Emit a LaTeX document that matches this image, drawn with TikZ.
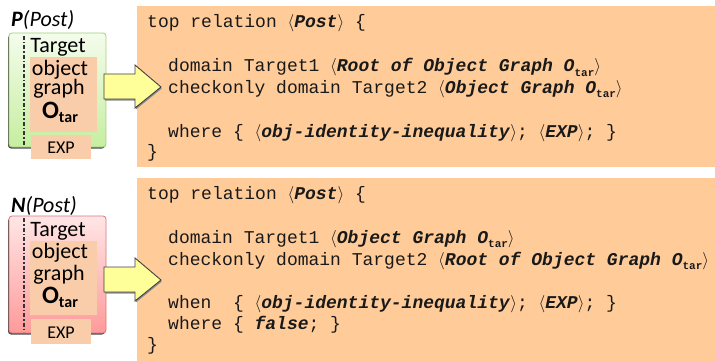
\documentclass[tikz,border=0pt]{standalone}
\usepackage{fontspec}
\setmainfont{Carlito}
\newfontfamily\codefont{Liberation Mono}

\definecolor{codebg}{HTML}{FFCC99}
\definecolor{innerbg}{HTML}{FACDAA}
\definecolor{greentop}{HTML}{F4FCEC}
\definecolor{greenbot}{HTML}{C6EEA0}
\definecolor{greenline}{HTML}{A2D078}
\definecolor{pinktop}{HTML}{FFE6E6}
\definecolor{pinkbot}{HTML}{FF9A9A}
\definecolor{pinkline}{HTML}{D87878}
\definecolor{arrowfill}{HTML}{FFFF99}

% placeholder in angle brackets, bold italic inside
\newcommand{\ph}[1]{$\langle$\textbf{\textit{#1}}$\rangle$}
\newcommand{\otar}{O\raisebox{-0.45ex}{\fontsize{11}{11}\selectfont\upshape\bfseries tar}}
\newcommand{\lotar}{\textbf{O}\raisebox{-0.4ex}{\fontsize{16}{16}\selectfont\bfseries tar}}

\tikzset{
  codeline/.style={anchor=base west, inner sep=0pt, text=black!90, font=\codefont\fontsize{18}{21}\selectfont},
  codebox/.style={fill=codebg, draw=none, anchor=north west, inner sep=0pt},
  label/.style={inner sep=0pt, font=\fontsize{22}{24}\selectfont},
  innerbox/.style={fill=innerbg, draw=none, anchor=north west, inner sep=0pt},
  sep/.style={line width=1.1pt, black!80, dash pattern=on 4pt off 2pt on 1.5pt off 2pt},
  blockarrow/.style={fill=arrowfill, draw=black!75, line width=0.9pt, line join=miter},
}

\begin{document}
\begin{tikzpicture}[x=1pt,y=-1pt]
\useasboundingbox (0,0) rectangle (715,361);

% ---------- code panels ----------
\node[codebox, minimum width=578, minimum height=161] (cb1) at (137,6) {};
\node[codebox, minimum width=578, minimum height=183] (cb2) at (137,178) {};

% ---------- upper pattern: P(Post) ----------
\fill[black!70, rounded corners=3pt] (8,35) rectangle (105,148.5);
\shade[top color=greentop, bottom color=greenbot, rounded corners=3pt, draw=greenline, line width=0.8pt]
  (9,33) rectangle (106,147);
\node[innerbox, minimum width=67, minimum height=75] (ob1) at (30,57) {};
\node[innerbox, minimum width=60, minimum height=24] (ex1) at (31,135) {};
\coordinate (d1a) at (24,36);
\coordinate (d1b) at (24,146);
\draw[sep] (d1a) -- (d1b);

\node[label, anchor=base west] (p1) at (11,27) {\textbf{\textit{P}}\textit{(Post)}};
\node[label, anchor=base] (t1) at (58,53) {Target};
\node[label, anchor=base] (o1) at (60,75) {object};
\node[label, anchor=base] (g1) at (59,95) {graph};
\node[label, anchor=base, font=\fontsize{25}{27}\selectfont] (O1) at (60,118) {\lotar};
\node[label, anchor=base, font=\fontsize{18}{20}\selectfont] (e1) at (61,153) {EXP};

% ---------- lower pattern: N(Post) ----------
\fill[black!70, rounded corners=3pt] (8,218) rectangle (105,334.5);
\shade[top color=pinktop, bottom color=pinkbot, rounded corners=3pt, draw=pinkline, line width=0.8pt]
  (9,216) rectangle (106,333);
\node[innerbox, minimum width=67, minimum height=74] (ob2) at (30,241) {};
\node[innerbox, minimum width=60, minimum height=25] (ex2) at (31,319) {};
\coordinate (d2a) at (24,218);
\coordinate (d2b) at (24,332);
\draw[sep] (d2a) -- (d2b);

\node[label, anchor=base west] (p2) at (11,212) {\textbf{\textit{N}}\textit{(Post)}};
\node[label, anchor=base] (t2) at (58,236) {Target};
\node[label, anchor=base] (o2) at (60,258) {object};
\node[label, anchor=base] (g2) at (59,280) {graph};
\node[label, anchor=base, font=\fontsize{25}{27}\selectfont] (O2) at (60,303) {\lotar};
\node[label, anchor=base, font=\fontsize{18}{20}\selectfont] (e2) at (61,338) {EXP};

% ---------- block arrows ----------
\foreach \dy/\nm in {0/a1, 193/a2} {
  \fill[black!45, shift={(0.8,1.6)}]
    (104,74+\dy) -- (135,74+\dy) -- (135,65+\dy) -- (161,87+\dy) -- (135,108+\dy) -- (135,99+\dy) -- (104,99+\dy) -- cycle;
  \draw[blockarrow]
    (104,74+\dy) -- (135,74+\dy) -- (135,65+\dy) -- (161,87+\dy) -- (135,108+\dy) -- (135,99+\dy) -- (104,99+\dy) -- cycle;
}

% ---------- upper relation ----------
\node[codeline] (l11) at (147,28) {top relation \ph{Post} \{};
\node[codeline] (l12) at (168,72) {domain Target1 \ph{Root of Object Graph \otar}};
\node[codeline] (l13) at (168,93) {checkonly domain Target2 \ph{Object Graph \otar}};
\node[codeline] (l14) at (168,137) {where \{ \ph{obj-identity-inequality}; \ph{EXP}; \}};
\node[codeline] (l15) at (147,157) {\}};

% ---------- lower relation ----------
\node[codeline] (l21) at (147,199) {top relation \ph{Post} \{};
\node[codeline] (l22) at (168,243) {domain Target1 \ph{Object Graph \otar}};
\node[codeline] (l23) at (168,265) {checkonly domain Target2 \ph{Root of Object Graph \otar}};
\node[codeline] (l24) at (168,308) {when\ \ \{ \ph{obj-identity-inequality}; \ph{EXP}; \}};
\node[codeline] (l25) at (168,329) {where \{ \textbf{\textit{false}}; \}};
\node[codeline] (l26) at (147,350) {\}};
\end{tikzpicture}
\end{document}
